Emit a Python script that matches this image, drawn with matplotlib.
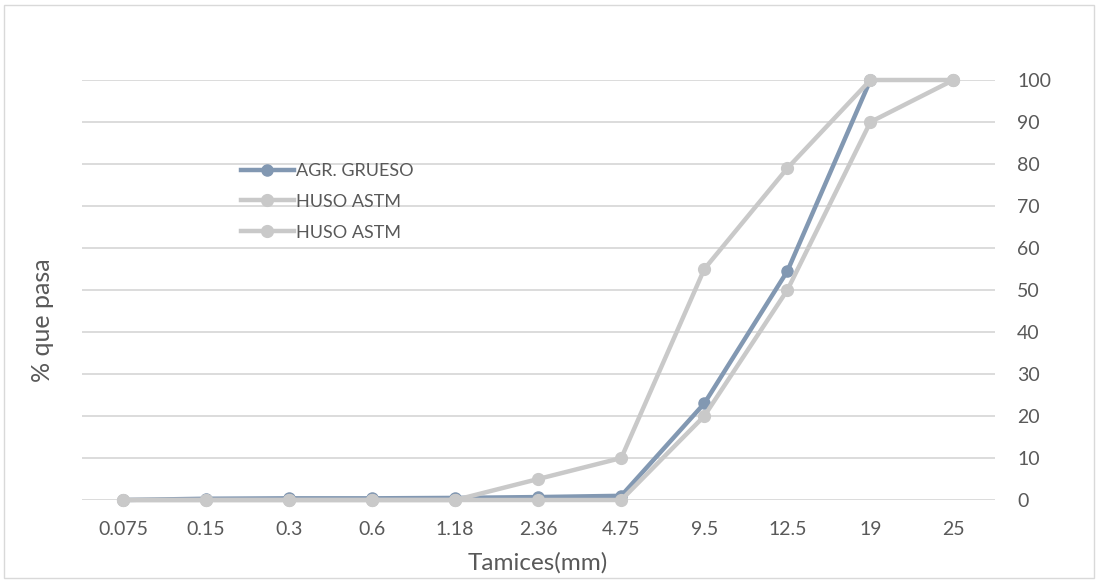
import numpy as np
import matplotlib.pyplot as plt
from matplotlib.patches import Rectangle

plt.rcParams['font.family'] = ['Lato', 'DejaVu Sans']

tamices = ["0.075", "0.15", "0.3", "0.6", "1.18", "2.36", "4.75", "9.5", "12.5", "19", "25"]
agr_grueso = [0.0, 0.3, 0.4, 0.4, 0.5, 0.7, 1.0, 23.0, 54.5, 100.0, np.nan]
huso_sup = [0, 0, 0, 0, 0, 5, 10, 55, 79, 100, 100]
huso_inf = [0, 0, 0, 0, 0, 0, 0, 20, 50, 90, 100]

azul = "#8298b2"
gris = "#c9c9c9"
texto = "#595959"

fig = plt.figure(figsize=(10.98, 5.81), dpi=100)
ax = fig.add_axes([81.5 / 1098, 81 / 581, 913.5 / 1098, 420 / 581])

x = np.arange(len(tamices))
# la serie medida va debajo de los husos, como en Excel
ax.plot(x, agr_grueso, color=azul, lw=3.2, marker="o", ms=8, label="AGR. GRUESO", zorder=3)
ax.plot(x, huso_sup, color=gris, lw=3.2, marker="o", ms=8.5, label="HUSO ASTM", zorder=4)
ax.plot(x, huso_inf, color=gris, lw=3.2, marker="o", ms=8.5, label="HUSO ASTM", zorder=4)

ax.set_xlim(-0.5, len(tamices) - 0.5)
ax.set_ylim(0, 100)
ax.set_xticks(x)
ax.set_xticklabels(tamices)
ax.set_yticks(range(0, 101, 10))
ax.yaxis.tick_right()
ax.tick_params(axis="both", length=0, labelsize=14, colors=texto)
ax.tick_params(axis="x", pad=15)
ax.tick_params(axis="y", pad=16)
ax.grid(axis="y", color="#d9d9d9", lw=1.3)
ax.set_axisbelow(True)
for s in ax.spines.values():
    s.set_visible(False)
for ln in ax.lines:
    ln.set_clip_on(False)

fig.text(538 / 1098, 1 - 563 / 581, "Tamices(mm)", fontsize=17.5, color=texto,
         ha="center", va="center")
fig.text(42 / 1098, 1 - 320 / 581, "% que pasa", rotation=90, fontsize=18,
         color=texto, ha="center", va="center")

ax.legend(loc="center left", bbox_to_anchor=(0.157, 0.71), frameon=False,
          fontsize=13, handlelength=2.9, handletextpad=0.15, labelspacing=0.82,
          labelcolor=texto)

# marco del gráfico
fig.patches.append(Rectangle((0.004, 0.006), 0.992, 0.986, transform=fig.transFigure,
                             fill=False, edgecolor="#d9d9d9", lw=1))

fig.savefig("out.png", dpi=100)
